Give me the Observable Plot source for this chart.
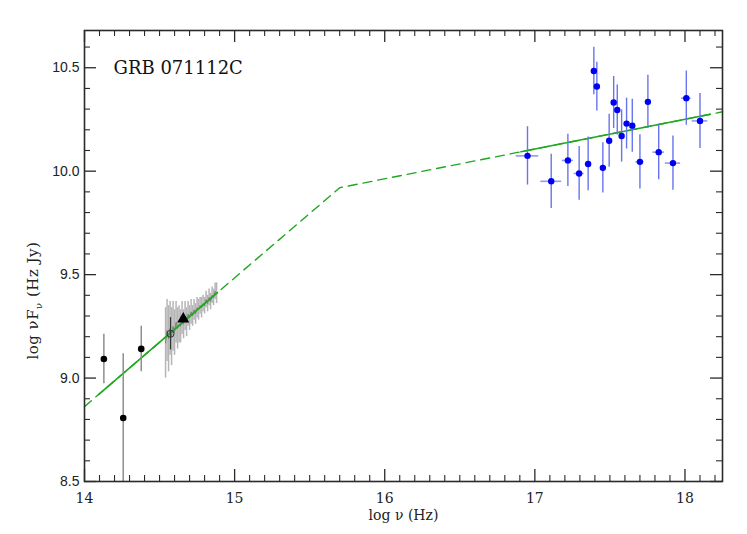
<!DOCTYPE html>
<html>
<head>
<meta charset="utf-8">
<script src="https://cdn.jsdelivr.net/npm/d3@7"></script>
<script src="https://cdn.jsdelivr.net/npm/@observablehq/plot@0.6"></script>
<style>
  html, body { margin: 0; padding: 0; background: #fff; }
  #chart { width: 747px; height: 534px; }
</style>
</head>
<body>
<div id="chart"></div>
<script>
// ---- X-ray (blue) data ----
const xrayX   = [16.951, 17.109, 17.220, 17.295, 17.355, 17.393, 17.413, 17.453, 17.495, 17.525, 17.549, 17.578, 17.611, 17.649, 17.700, 17.753, 17.825, 17.920, 18.009, 18.100];
const xrayY   = [10.074, 9.951, 10.052, 9.989, 10.035, 10.484, 10.409, 10.016, 10.147, 10.332, 10.296, 10.170, 10.230, 10.220, 10.045, 10.335, 10.092, 10.039, 10.353, 10.243];
const xrayErrY = [0.141, 0.131, 0.126, 0.130, 0.130, 0.115, 0.118, 0.121, 0.128, 0.126, 0.121, 0.126, 0.123, 0.128, 0.131, 0.129, 0.133, 0.131, 0.131, 0.133];
const xrayErrX = [0.075, 0.069, 0.037, 0.033, 0.020, 0.010, 0.010, 0.010, 0.010, 0.010, 0.010, 0.010, 0.010, 0.010, 0.027, 0.010, 0.038, 0.051, 0.032, 0.052];

// ---- NIR/optical photometry (black) ----
const photX   = [14.129, 14.258, 14.378];
const photY   = [9.092, 8.807, 9.141];
const photErr = [0.120, 0.310, 0.110];
const openX = [14.573], openY = [9.214], openErr = [0.078];
const triX = [14.658], triY = [9.285];

// ---- optical spectrum (grey) ----
const specX = [14.54, 14.55, 14.56, 14.57, 14.58, 14.59, 14.60, 14.61, 14.62, 14.63, 14.64, 14.65, 14.66, 14.67, 14.68, 14.69, 14.70, 14.71, 14.72, 14.73, 14.74, 14.75, 14.76, 14.77, 14.78, 14.79, 14.80, 14.81, 14.82, 14.83, 14.84, 14.85, 14.86, 14.87, 14.88];
const specY = [9.17, 9.23, 9.19, 9.24, 9.20, 9.25, 9.22, 9.27, 9.24, 9.26, 9.25, 9.29, 9.26, 9.30, 9.27, 9.31, 9.29, 9.32, 9.30, 9.33, 9.31, 9.34, 9.33, 9.35, 9.34, 9.36, 9.35, 9.38, 9.36, 9.39, 9.37, 9.40, 9.39, 9.42, 9.41];
const specErr = [0.17, 0.15, 0.16, 0.13, 0.14, 0.12, 0.11, 0.10, 0.10, 0.09, 0.08, 0.08, 0.07, 0.07, 0.07, 0.06, 0.06, 0.06, 0.05, 0.05, 0.05, 0.05, 0.05, 0.04, 0.05, 0.04, 0.04, 0.04, 0.04, 0.04, 0.04, 0.04, 0.04, 0.04, 0.05];

// ---- broken power-law model (green) ----
const modelX = [14.0, 15.70, 18.25];
const modelY = [8.862, 9.920, 10.287];
const solid1X = [14.095, 14.885], solid1Y = [8.921, 9.413];
const solid2X = [16.907, 18.169], solid2Y = [10.094, 10.275];

// ---- axes ----
const xTicks = [14, 15, 16, 17, 18];
const yTicks = [8.5, 9.0, 9.5, 10.0, 10.5];
const xDomain = [14, 18.25];
const yDomain = [8.5, 10.68];
const titleText = "GRB 071112C";
const xLabel = "log \u03bd (Hz)";

// build tables
const xray = xrayX.map((x, i) => ({x, y: xrayY[i], ey: xrayErrY[i], ex: xrayErrX[i]}));
const phot = photX.map((x, i) => ({x, y: photY[i], e: photErr[i]}));
const open = openX.map((x, i) => ({x, y: openY[i], e: openErr[i]}));
const tri = triX.map((x, i) => ({x, y: triY[i]}));
const spec = specX.map((x, i) => ({x, y: specY[i], e: specErr[i]}));
const model = modelX.map((x, i) => ({x, y: modelY[i]}));
const solid1 = solid1X.map((x, i) => ({x, y: solid1Y[i]}));
const solid2 = solid2X.map((x, i) => ({x, y: solid2Y[i]}));

const xMinor = d3.range(14.1, 18.25, 0.1).map(v => +v.toFixed(1)).filter(v => Math.abs(v - Math.round(v)) > 1e-6);
const yMinor = d3.range(8.6, 10.68, 0.1).map(v => +v.toFixed(1)).filter(v => Math.abs(v * 2 - Math.round(v * 2)) > 1e-6);

const W = 747, H = 534, mL = 84, mR = 25, mT = 30, mB = 53;
const fw = W - mL - mR, fh = H - mT - mB;
const major = 12, minor = 6;
const axisColor = "#2a2a2a";
const green = "#1fa81f";

const plot = Plot.plot({
  width: W, height: H,
  marginLeft: mL, marginRight: mR, marginTop: mT, marginBottom: mB,
  x: {domain: xDomain, axis: null},
  y: {domain: yDomain, axis: null},
  style: {background: "#fff", overflow: "visible"},
  marks: [
    // spectrum
    Plot.ruleX(spec, {x: "x", y1: d => d.y - d.e, y2: d => d.y + d.e, stroke: "#b5b5b5", strokeWidth: 1.5}),
    Plot.line(spec, {x: "x", y: "y", stroke: "#7f7f7f", strokeWidth: 1}),
    // model
    Plot.line(model, {x: "x", y: "y", stroke: green, strokeWidth: 1.4, strokeDasharray: "9,6"}),
    Plot.line(solid1, {x: "x", y: "y", stroke: green, strokeWidth: 1.6}),
    Plot.line(solid2, {x: "x", y: "y", stroke: green, strokeWidth: 1.6}),
    // photometry
    Plot.ruleX(phot, {x: "x", y1: d => d.y - d.e, y2: d => d.y + d.e, stroke: "#8f8f8f", strokeWidth: 1.5, clip: true}),
    Plot.dot(phot, {x: "x", y: "y", r: 3.3, fill: "#000"}),
    Plot.ruleX(open, {x: "x", y1: d => d.y - d.e, y2: d => d.y + d.e, stroke: "#333", strokeWidth: 1.2}),
    Plot.dot(open, {x: "x", y: "y", r: 3.5, stroke: "#333", fill: "none", strokeWidth: 1}),
    Plot.dot(tri, {x: "x", y: "y", r: 4.5, symbol: "triangle", fill: "#000"}),
    // X-ray
    Plot.ruleX(xray, {x: "x", y1: d => d.y - d.ey, y2: d => d.y + d.ey, stroke: "#6874ee", strokeWidth: 1.4}),
    Plot.ruleY(xray, {y: "y", x1: d => d.x - d.ex, x2: d => d.x + d.ex, stroke: "#8f99f2", strokeWidth: 1.6}),
    Plot.dot(xray, {x: "x", y: "y", r: 3.2, fill: "#0000f0"}),
    // ticks (inward, all four sides)
    Plot.ruleX(xTicks, {x: d => d, insetTop: fh - major, stroke: axisColor, strokeWidth: 1.3}),
    Plot.ruleX(xMinor, {x: d => d, insetTop: fh - minor, stroke: axisColor, strokeWidth: 1.1}),
    Plot.ruleX(xTicks, {x: d => d, insetBottom: fh - major, stroke: axisColor, strokeWidth: 1.3}),
    Plot.ruleX(xMinor, {x: d => d, insetBottom: fh - minor, stroke: axisColor, strokeWidth: 1.1}),
    Plot.ruleY(yTicks, {y: d => d, insetRight: fw - major, stroke: axisColor, strokeWidth: 1.3}),
    Plot.ruleY(yMinor, {y: d => d, insetRight: fw - minor, stroke: axisColor, strokeWidth: 1.1}),
    Plot.ruleY(yTicks, {y: d => d, insetLeft: fw - major, stroke: axisColor, strokeWidth: 1.3}),
    Plot.ruleY(yMinor, {y: d => d, insetLeft: fw - minor, stroke: axisColor, strokeWidth: 1.1}),
    Plot.frame({stroke: axisColor, strokeWidth: 1.6}),
    // tick labels
    Plot.text(xTicks, {x: d => d, y: yDomain[0], text: d => String(d), dy: 17, fontSize: 14, fontFamily: "DejaVu Serif", fill: "#222"}),
    Plot.text(yTicks, {x: xDomain[0], y: d => d, text: d => d3.format(".1f")(d), dx: -5, textAnchor: "end", fontSize: 14, fontFamily: "Liberation Sans", fill: "#222"}),
    // axis label and title
    Plot.text([xLabel], {frameAnchor: "bottom", text: d => d, dy: 38, fontSize: 14, fontFamily: "DejaVu Serif", fill: "#222"}),
    Plot.text([titleText], {frameAnchor: "top-left", text: d => d, dx: 29, dy: 31, fontSize: 18, fontFamily: "DejaVu Serif", fill: "#111", textAnchor: "start", letterSpacing: 0.6})
  ]
});

// rotated y label with subscript
const svg = d3.select(plot);
const yl = svg.append("text")
  .attr("transform", `translate(38,${mT + fh * 0.6}) rotate(-90)`)
  .attr("text-anchor", "middle")
  .attr("font-family", "DejaVu Serif")
  .attr("font-size", 15)
  .attr("letter-spacing", 0.5)
  .attr("fill", "#222");
yl.append("tspan").text("log \u03bdF");
yl.append("tspan").attr("font-size", 10).attr("dy", 4).text("\u03bd");
yl.append("tspan").attr("dy", -4).text(" (Hz Jy)");

document.getElementById("chart").appendChild(plot);
</script>
</body>
</html>
